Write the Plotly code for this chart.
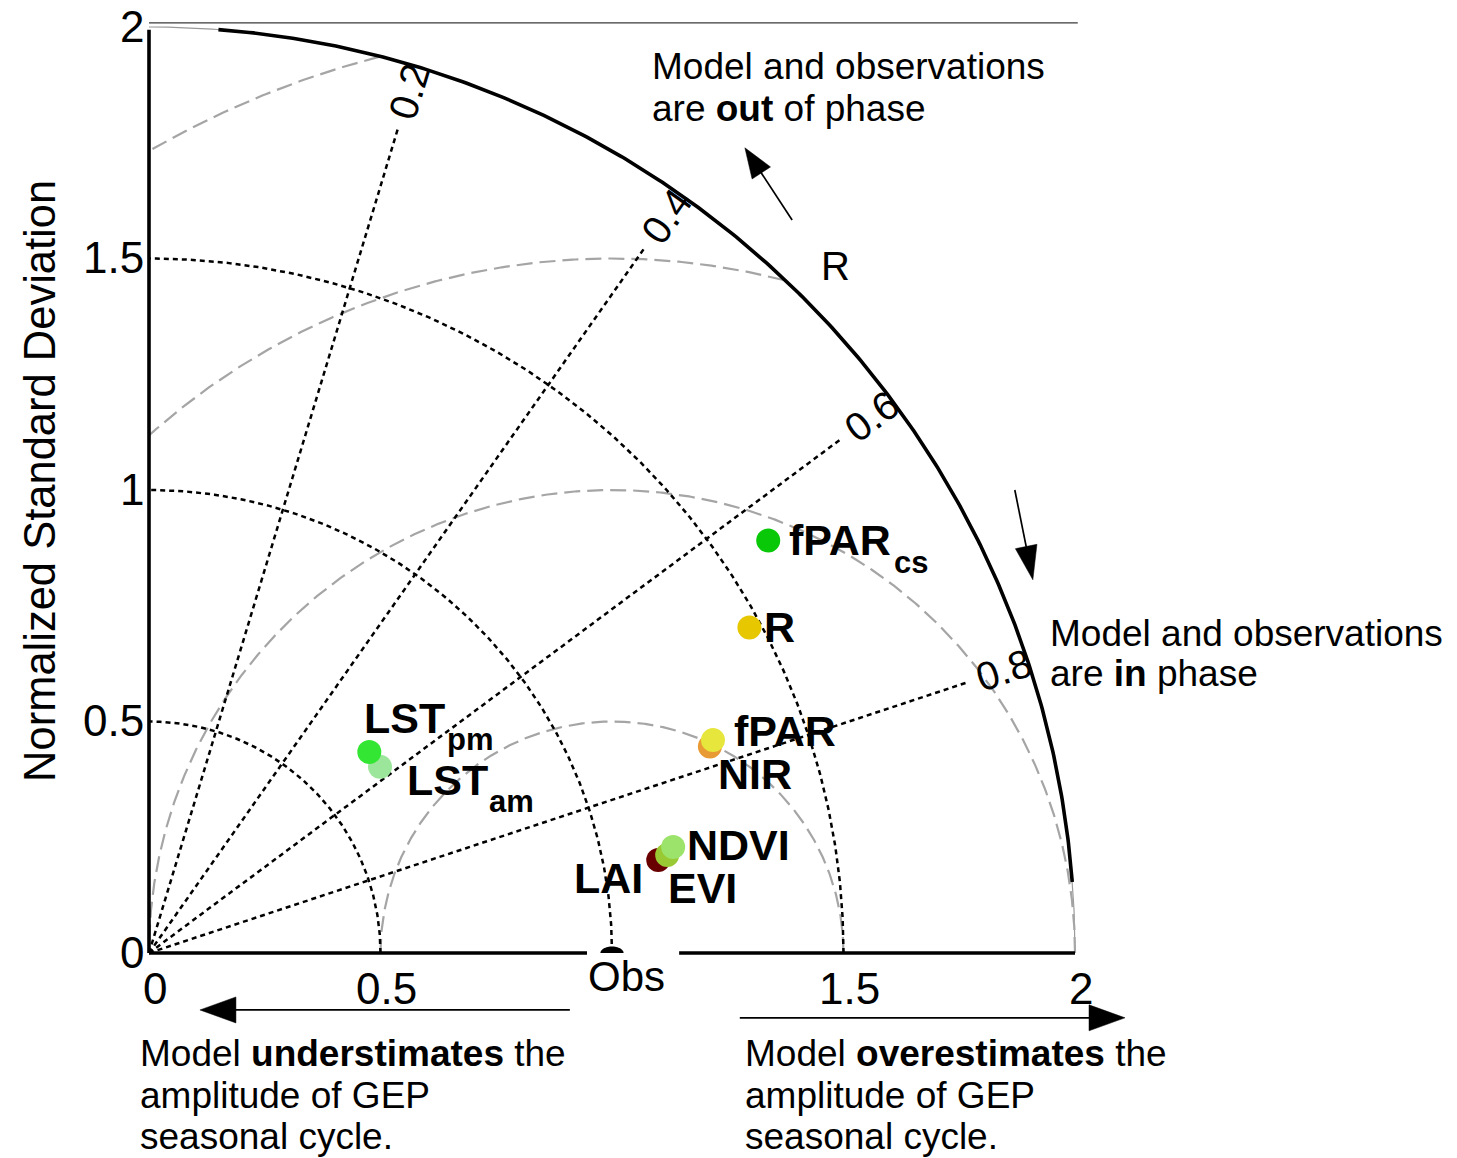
import numpy as np
import plotly.graph_objects as go

# ---------------- data ----------------
labels = ["fPAR", "R", "NIR", "fPAR", "LAI", "EVI", "NDVI", "LST", "LST"]
label_subs = ["cs", "", "", "", "", "", "", "am", "pm"]
norm_std = [1.607, 1.475, 1.291, 1.302, 1.118, 1.139, 1.155, 0.641, 0.644]
corr = [0.632, 0.689, 0.779, 0.774, 0.887, 0.883, 0.875, 0.575, 0.537]
colors = ["#08c808", "#e6c700", "#e89b34", "#e6e63c", "#690000",
          "#99c933", "#9be36b", "#9ce69c", "#33e633"]

std_ticks = [0, 0.5, 1, 1.5, 2]
std_ticktext = ["0", "0.5", "Obs", "1.5", "2"]
corr_ticks = [0.2, 0.4, 0.6, 0.8]
corr_ticktext = ["0.2", "0.4", "0.6", "0.8"]
std_arcs = [0.5, 1.0, 1.5]
rms_arcs = [0.5, 1.0, 1.5, 2.0]
obs_std = 1.0
max_std = 2.0

# label placement (px) relative to each marker:
# (xanchor, xshift, yshift, sub_xshift, sub_yshift)
label_style = [
    ("left", 19, 0, 124, -22),     # fPAR cs
    ("left", 13, 1, 0, 0),         # R
    ("left", 6, -28, 0, 0),        # NIR
    ("left", 19, 9, 0, 0),         # fPAR
    ("right", -13, -18, 0, 0),     # LAI
    ("left", -1, -33, 0, 0),       # EVI
    ("left", 12, 2, 0, 0),         # NDVI
    ("left", 25, -13, 107, -35),   # LST am
    ("left", -7, 34, 76, 13),      # LST pm
]

# ---------------- geometry helpers ----------------
SPAN = np.radians(91.5)  # angular extent used by this diagram's correlation scale


def theta(R):
    return (1.0 - np.asarray(R, dtype=float)) * SPAN


def to_xy(r, R):
    t = theta(R)
    return np.asarray(r) * np.cos(t), np.asarray(r) * np.sin(t)


FONT = "Liberation Sans, Arial, Helvetica, sans-serif"
DOT = dict(color="black", width=2.5, dash="5px,4px")
GRAYDASH = dict(color="#a5a5a5", width=2.2, dash="16px,7px")
W, H = 1457, 1158
X0, Y0, SC = 149, 953, 463.0

fig = go.Figure()

# thin gray full outer circle underneath
tt = np.linspace(0, np.pi / 2, 300)
fig.add_trace(go.Scatter(x=max_std * np.cos(tt), y=max_std * np.sin(tt), mode="lines",
                         line=dict(color="#9a9a9a", width=1.2), hoverinfo="skip"))

# RMS (centred) arcs around the observation point
tt = np.linspace(0, np.pi, 800)
for rr in rms_arcs:
    x = obs_std + rr * np.cos(tt)
    y = rr * np.sin(tt)
    ok = (x >= 0) & (x * x + y * y <= max_std ** 2 + 1e-9)
    x = np.where(ok, x, np.nan)
    y = np.where(ok, y, np.nan)
    fig.add_trace(go.Scatter(x=x, y=y, mode="lines", line=GRAYDASH,
                             connectgaps=False, hoverinfo="skip"))

# standard deviation arcs (dotted)
tt = np.linspace(0, np.pi / 2, 300)
for rr in std_arcs:
    fig.add_trace(go.Scatter(x=rr * np.cos(tt), y=rr * np.sin(tt), mode="lines",
                             line=DOT, hoverinfo="skip"))

# correlation rays (dotted)
for R in corr_ticks:
    xe, ye = to_xy(1.86, R)
    fig.add_trace(go.Scatter(x=[0, xe], y=[0, ye], mode="lines", line=DOT, hoverinfo="skip"))

# outer bold arc
tt = np.linspace(np.radians(4.4), np.radians(85.7), 300)
fig.add_trace(go.Scatter(x=max_std * np.cos(tt), y=max_std * np.sin(tt), mode="lines",
                         line=dict(color="black", width=3.6), hoverinfo="skip"))

# axes lines
gap_lo, gap_hi = obs_std - 0.054, obs_std + 0.145
fig.add_trace(go.Scatter(x=[0, gap_lo, None, gap_hi, max_std], y=[0, 0, None, 0, 0],
                         mode="lines", line=dict(color="black", width=3.6), hoverinfo="skip"))
fig.add_trace(go.Scatter(x=[0, 0], y=[0, max_std - 0.006], mode="lines",
                         line=dict(color="black", width=3.6), hoverinfo="skip"))
fig.add_trace(go.Scatter(x=[0, max_std + 0.006], y=[max_std + 0.009, max_std + 0.009], mode="lines",
                         line=dict(color="#3a3a3a", width=1.2), hoverinfo="skip"))

# data points
px_, py_ = to_xy(norm_std, corr)
hover = [l + (f"<sub>{s}</sub>" if s else "") for l, s in zip(labels, label_subs)]
fig.add_trace(go.Scatter(x=px_, y=py_, mode="markers", text=hover,
                         marker=dict(size=24, color=colors, line=dict(width=0)),
                         hoverinfo="text"))

annotations = []
shapes = []

# observation marker (half disc)
ts = np.linspace(0, np.pi, 30)
path = "M " + " L ".join(f"{obs_std + 0.025 * np.cos(t):.4f},{0.014 * np.sin(t):.4f}" for t in ts) + " Z"
shapes.append(dict(type="path", path=path, xref="x", yref="y", fillcolor="black",
                   line=dict(color="black", width=0)))

# data labels
for lab, sub, xv, yv, st in zip(labels, label_subs, px_, py_, label_style):
    xa, xs, ys, sxs, sys_ = st
    annotations.append(dict(x=xv, y=yv, text=f"<b>{lab}</b>", showarrow=False,
                            xanchor=xa, yanchor="middle", xshift=xs, yshift=ys,
                            font=dict(family=FONT, size=43, color="black")))
    if sub:
        annotations.append(dict(x=xv, y=yv, text=f"<b>{sub}</b>", showarrow=False,
                                xanchor="left", yanchor="middle", xshift=sxs, yshift=sys_,
                                font=dict(family=FONT, size=31, color="black")))

# correlation tick labels (rotated)
for R, txt in zip(corr_ticks, corr_ticktext):
    xl, yl = to_xy(1.945, R)
    annotations.append(dict(x=xl, y=yl, text=txt, showarrow=False, textangle=-np.degrees(theta(R)),
                            xanchor="center", yanchor="middle",
                            font=dict(family=FONT, size=40, color="black")))

# x tick labels
for v, txt in zip(std_ticks, std_ticktext):
    if txt == "Obs":
        annotations.append(dict(x=v, y=0, text=txt, showarrow=False, xanchor="center",
                                yanchor="middle", xshift=14, yshift=-23,
                                font=dict(family=FONT, size=42, color="black")))
    else:
        annotations.append(dict(x=v, y=0, text=txt, showarrow=False, xanchor="center",
                                yanchor="middle", xshift=6, yshift=-35,
                                font=dict(family=FONT, size=44, color="black")))
# y tick labels
for v, txt in zip(std_ticks, std_ticktext):
    t = txt if txt != "Obs" else "1"
    annotations.append(dict(x=0, y=v, text=t, showarrow=False, xanchor="right",
                            yanchor="middle", xshift=-3, yshift=1,
                            font=dict(family=FONT, size=44, color="black")))

# y-axis title
annotations.append(dict(x=-0.235, y=1.02, text="Normalized Standard Deviation", showarrow=False,
                        textangle=-90, xanchor="center", yanchor="middle",
                        font=dict(family=FONT, size=43.5, color="black")))

# R label for the angular axis
xr, yr = 2.097 * np.cos(np.pi / 4), 2.097 * np.sin(np.pi / 4)
annotations.append(dict(x=xr, y=yr, text="R", showarrow=False, xanchor="center", yanchor="middle",
                        font=dict(family=FONT, size=40, color="black")))


def text_line(x, y, txt, size=37):
    annotations.append(dict(x=x, y=y, text=txt, showarrow=False, xanchor="left", yanchor="middle",
                            font=dict(family=FONT, size=size, color="black")))


text_line(1.082, 1.914, "Model and observations")
text_line(1.082, 1.825, "are <b>out</b> of phase")
text_line(1.942, 0.691, "Model and observations")
text_line(1.942, 0.603, "are <b>in</b> phase")
text_line(-0.024, -0.216, "Model <b>understimates</b> the")
text_line(-0.024, -0.307, "amplitude of GEP")
text_line(-0.024, -0.397, "seasonal cycle.")
text_line(1.283, -0.216, "Model <b>overestimates</b> the")
text_line(1.283, -0.307, "amplitude of GEP")
text_line(1.283, -0.397, "seasonal cycle.")


def arrow(x0, y0, x1, y1, L=34, hw=12, w=1.7):
    dx, dy = x1 - x0, y1 - y0
    n = np.hypot(dx, dy)
    ux, uy = dx / n, dy / n
    Ld, hwd = L / SC, hw / SC
    bx, by = x1 - ux * Ld, y1 - uy * Ld
    shapes.append(dict(type="line", xref="x", yref="y", x0=x0, y0=y0, x1=bx + ux * 2 / SC,
                       y1=by + uy * 2 / SC, line=dict(color="black", width=w)))
    p = (f"M {x1:.5f},{y1:.5f} L {bx - uy * hwd:.5f},{by + ux * hwd:.5f} "
         f"L {bx + uy * hwd:.5f},{by - ux * hwd:.5f} Z")
    shapes.append(dict(type="path", xref="x", yref="y", path=p, fillcolor="black",
                       line=dict(color="black", width=0.5)))


arrow(1.389, 1.583, 1.287, 1.739, L=30, hw=11)
arrow(1.870, 1.000, 1.909, 0.806, L=34, hw=11)
arrow(0.909, -0.123, 0.110, -0.123, L=36, hw=13)
arrow(1.276, -0.140, 2.108, -0.140, L=36, hw=13)

fig.update_layout(
    width=W, height=H, margin=dict(l=0, r=0, t=0, b=0),
    paper_bgcolor="white", plot_bgcolor="white", showlegend=False,
    xaxis=dict(range=[-X0 / SC, (W - X0) / SC], visible=False, fixedrange=True),
    yaxis=dict(range=[(Y0 - H) / SC, Y0 / SC], visible=False, fixedrange=True),
    annotations=annotations, shapes=shapes,
)

fig.write_html("out.html", post_script="document.body.style.margin='0';")
